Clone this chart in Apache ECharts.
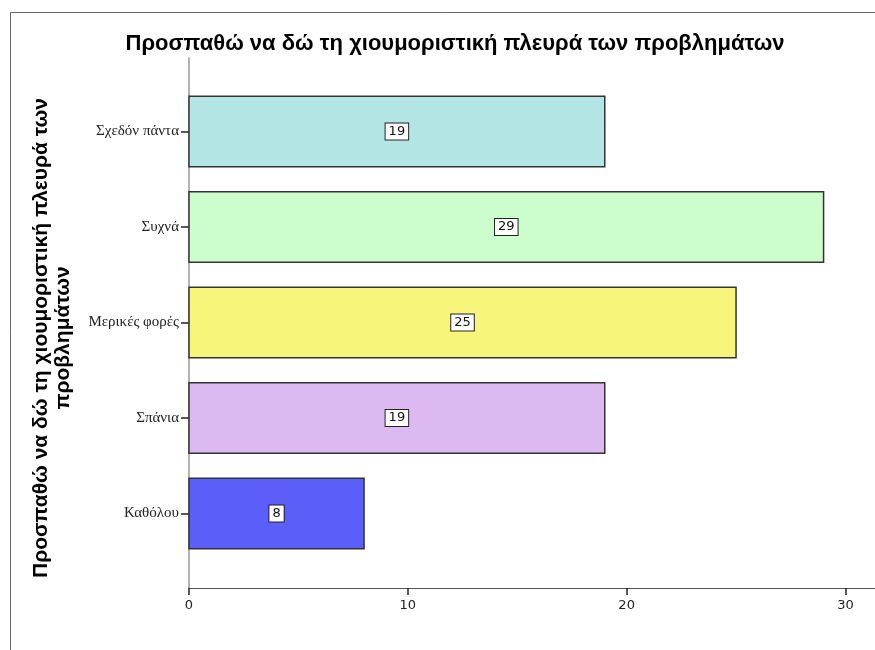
<!DOCTYPE html>
<html>
<head>
<meta charset="utf-8">
<script src="https://cdn.jsdelivr.net/npm/echarts@6/dist/echarts.min.js"></script>
<style>
  html, body { margin: 0; padding: 0; background: #ffffff; }
  #chart { width: 875px; height: 650px; }
</style>
</head>
<body>
<div id="chart"></div>
<script>
// Answer categories, from bottom (index 0) to top
const categories = ['Καθόλου', 'Σπάνια', 'Μερικές φορές', 'Συχνά', 'Σχεδόν πάντα'];
// Counts for each answer
const counts = [8, 19, 25, 29, 19];
// Fill colour of each bar
const barColors = ['#5b5ef8', '#ddb9f2', '#f8f57b', '#ccfdcc', '#b4e5e5'];
// Value-axis tick labels
const xTicks = [0, 10, 20, 30];

const titleText = 'Προσπαθώ να δώ τη χιουμοριστική πλευρά των προβλημάτων';
const yNameText = 'Προσπαθώ να δώ τη χιουμοριστική πλευρά των\nπροβλημάτων';

const BAR_HEIGHT = 0.74; // in category units

const chart = echarts.init(document.getElementById('chart'), null, { renderer: 'canvas' });

const option = {
  backgroundColor: '#ffffff',
  animation: false,
  title: {
    text: titleText,
    left: 450,
    top: 28,
    textAlign: 'center',
    textStyle: {
      fontFamily: 'Liberation Sans, Arial, sans-serif',
      fontWeight: 'bold',
      fontSize: 22,
      color: '#000000'
    }
  },
  graphic: [
    {
      type: 'rect',
      shape: { x: 10.5, y: 12.5, width: 900, height: 700 },
      style: { fill: 'none', stroke: '#666666', lineWidth: 1 },
      silent: true,
      z: -1
    },
    {
      type: 'text',
      x: 52,
      y: 338,
      rotation: Math.PI / 2,
      style: {
        text: yNameText,
        fontFamily: 'Liberation Sans, Arial, sans-serif',
        fontWeight: 'bold',
        fontSize: 21,
        lineHeight: 22,
        fill: '#000000',
        align: 'center',
        verticalAlign: 'middle'
      }
    }
  ],
  grid: {
    left: 189,
    right: 0,
    top: 58,
    bottom: 62,
    containLabel: false
  },
  xAxis: {
    type: 'value',
    min: 0,
    max: 31.35,
    interval: 10,
    axisLine: { show: true, onZero: false, lineStyle: { color: '#555555', width: 1 } },
    axisTick: { show: true, customValues: xTicks, length: 7, lineStyle: { color: '#222222', width: 1.5 } },
    axisLabel: {
      customValues: xTicks,
      fontFamily: 'DejaVu Sans, sans-serif',
      fontSize: 13,
      color: '#222222',
      margin: 11
    },
    splitLine: { show: false }
  },
  yAxis: {
    type: 'value',
    min: -0.78,
    max: 4.77,
    axisLine: { show: true, onZero: false, lineStyle: { color: '#999999', width: 1.5 } },
    axisTick: {
      show: true,
      customValues: categories.map((c, i) => i),
      length: 8,
      lineStyle: { color: '#222222', width: 1.5 }
    },
    axisLabel: {
      customValues: categories.map((c, i) => i),
      formatter: (v) => categories[Math.round(v)],
      fontFamily: 'Liberation Serif, Times New Roman, serif',
      fontSize: 15,
      color: '#222222',
      margin: 10
    },
    splitLine: { show: false }
  },
  series: [
    {
      type: 'custom',
      encode: { x: 1, y: 0 },
      data: categories.map((c, i) => [i, counts[i]]),
      renderItem: (params, api) => {
        const i = api.value(0);
        const v = api.value(1);
        const p0 = api.coord([0, i + BAR_HEIGHT / 2]);
        const p1 = api.coord([v, i - BAR_HEIGHT / 2]);
        const mid = api.coord([v / 2, i]);
        return {
          type: 'group',
          children: [
            {
              type: 'rect',
              shape: { x: p0[0], y: p0[1], width: p1[0] - p0[0], height: p1[1] - p0[1] },
              style: { fill: barColors[i], stroke: '#333333', lineWidth: 1.5 }
            },
            {
              type: 'text',
              x: mid[0],
              y: mid[1],
              style: {
                text: String(v),
                fontFamily: 'DejaVu Sans, sans-serif',
                fontSize: 13,
                fill: '#111111',
                align: 'center',
                verticalAlign: 'middle',
                backgroundColor: '#ffffff',
                borderColor: '#222222',
                borderWidth: 1,
                padding: [2, 3, 1, 3]
              }
            }
          ]
        };
      }
    }
  ]
};

chart.setOption(option);
</script>
</body>
</html>
